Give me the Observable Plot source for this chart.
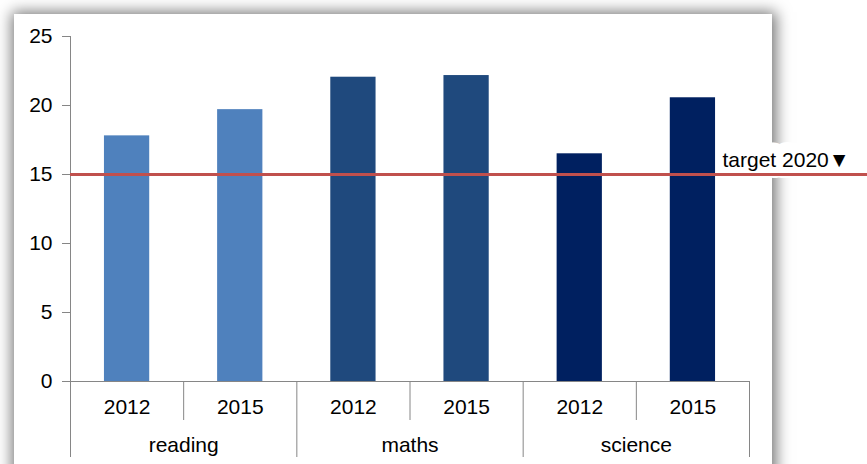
<!DOCTYPE html>
<html>
<head>
<meta charset="utf-8">
<script src="https://cdn.jsdelivr.net/npm/d3@7"></script>
<script src="https://cdn.jsdelivr.net/npm/@observablehq/plot@0.6"></script>
<style>
  html, body { margin: 0; padding: 0; background: #fff; }
  #wrap { position: relative; width: 867px; height: 464px; overflow: hidden; background: #fff; }
  #card { position: absolute; left: 14px; top: 14px; width: 758px; height: 480px; background: #fff;
          box-shadow: 1px 1px 14px 3px rgba(0,0,0,0.55); }
  #chart { position: absolute; left: 0; top: 0; }
  #chart svg { background: transparent; overflow: visible; }
</style>
</head>
<body>
<div id="wrap"><div id="card"></div><div id="chart"></div></div>
<script>
// ---- data ----
const subjects = ["reading", "maths", "science"];
const years = ["2012", "2015"];
const reading = [17.8, 19.7];
const maths = [22.05, 22.17];
const science = [16.5, 20.56];
const target = 15;
const targetLabel = "target 2020\u25BC";
const yTicks = [0, 5, 10, 15, 20, 25];
const colors = ["#4F81BD", "#1F497D", "#002060"];

const series = [reading, maths, science];
const rows = [];
subjects.forEach((s, si) => years.forEach((y, yi) => rows.push({subject: s, year: y, value: series[si][yi], i: si * years.length + yi})));
const n = rows.length;
const longBounds = d3.range(0, n + 1, years.length);
const shortBounds = d3.range(1, n, years.length);

const gray = "#868686";
const font = "Liberation Sans, Arial, sans-serif";

const chart = Plot.plot({
  width: 867,
  height: 464,
  marginLeft: 70,
  marginRight: 118,
  marginTop: 36,
  marginBottom: 83,
  style: {fontFamily: font, fontSize: "21px", color: "black", background: "transparent"},
  x: {type: "linear", domain: [0, n], axis: null},
  y: {domain: [0, 25], axis: null},
  color: {domain: subjects, range: colors},
  marks: [
    Plot.text([target], {y: d => d, text: () => targetLabel, frameAnchor: "right", textAnchor: "start", dx: -27, dy: -14, lineAnchor: "middle", fontSize: 21, fill: "black", stroke: "white", strokeWidth: 22, strokeLinejoin: "round"}),
    Plot.rectY(rows, {x1: d => d.i + 0.3, x2: d => d.i + 0.7, y1: 0, y2: "value", fill: "subject"}),
    Plot.axisY({ticks: yTicks, tickSize: 8, tickPadding: 10, stroke: gray, color: "black", fontSize: 21, label: null}),
    Plot.ruleX([0], {stroke: gray}),
    Plot.ruleY([0], {stroke: gray}),
    Plot.ruleX(longBounds, {x: d => d, y1: 0, y2: 0, insetBottom: -76, stroke: gray}),
    Plot.ruleX(shortBounds, {x: d => d, y1: 0, y2: 0, insetBottom: -39, stroke: gray}),
    Plot.text(rows, {x: d => d.i + 0.5, text: "year", frameAnchor: "bottom", dy: 26, lineAnchor: "middle", fontSize: 21, fill: "black"}),
    Plot.text(subjects, {x: (d, i) => i * years.length + years.length / 2, text: d => d, frameAnchor: "bottom", dy: 64, lineAnchor: "middle", fontSize: 21, fill: "black"}),
    Plot.ruleY([target], {stroke: "#C0504D", strokeWidth: 3, insetRight: -118})
  ]
});
document.getElementById("chart").appendChild(chart);
</script>
</body>
</html>
